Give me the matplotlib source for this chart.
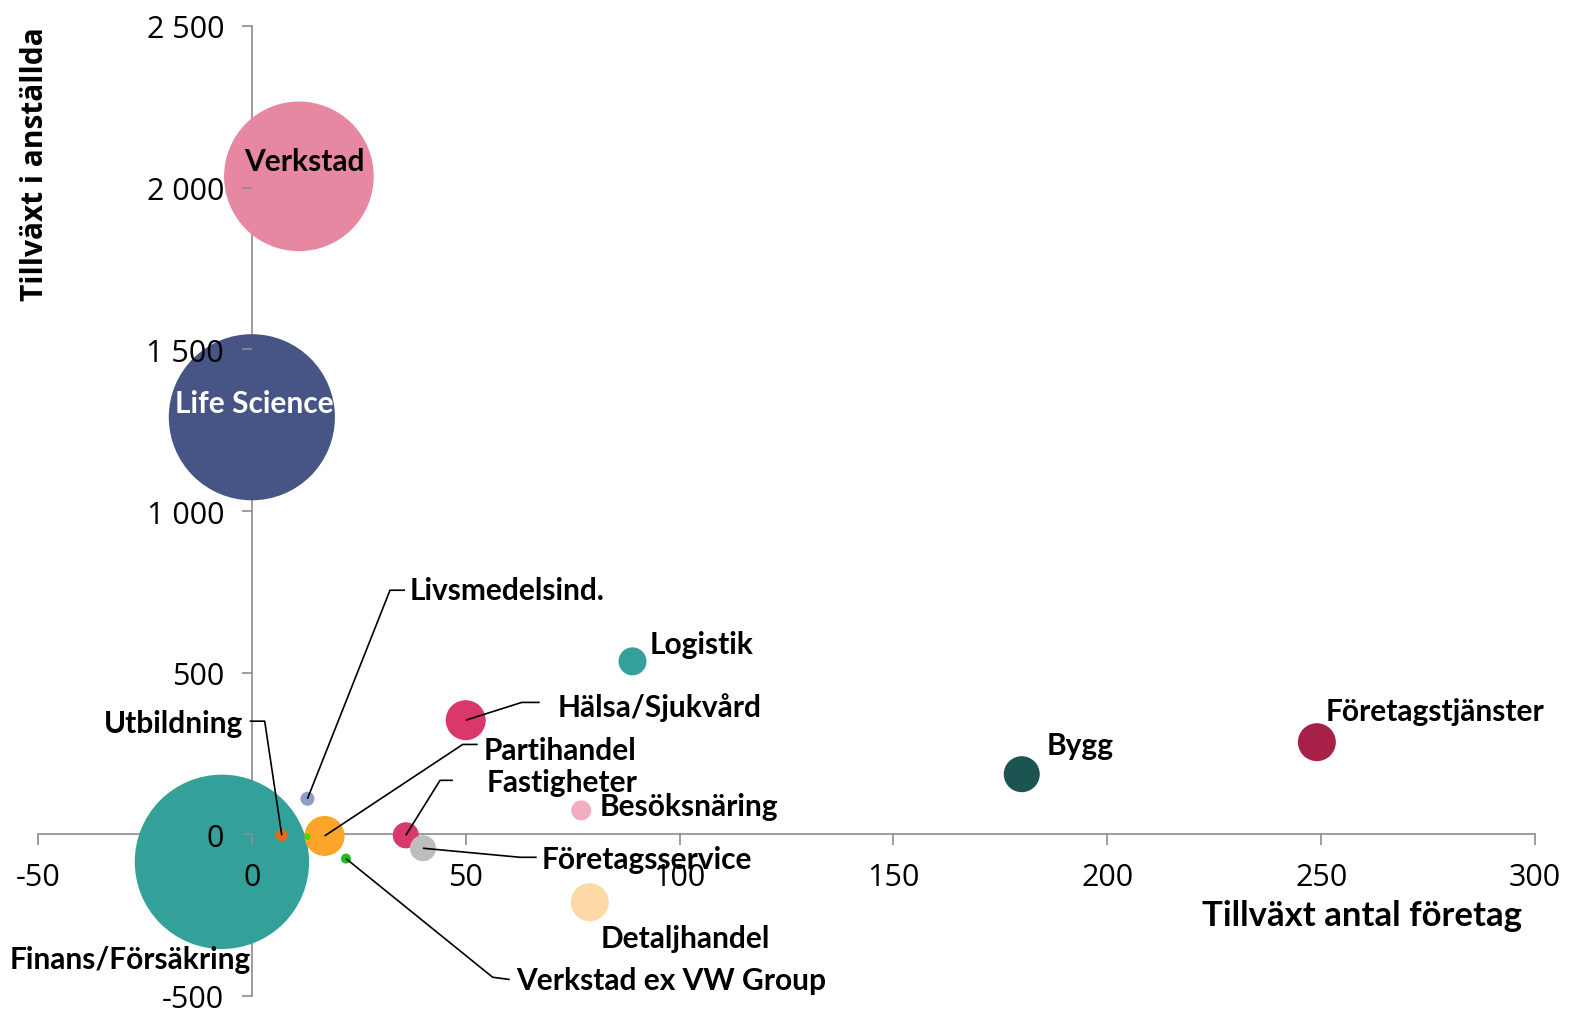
import matplotlib
matplotlib.use("Agg")
import matplotlib.pyplot as plt
from matplotlib.ticker import FuncFormatter

# ---- data ----
branscher = ["Verkstad", "Life Science", "Finans/Försäkring", "Utbildning",
             "Livsmedelsind.", "Partihandel", "Övrigt", "Verkstad ex VW Group",
             "Fastigheter", "Företagsservice", "Hälsa/Sjukvård", "Logistik",
             "Besöksnäring", "Detaljhandel", "Bygg", "Företagstjänster"]
tillvaxt_foretag = [11, 0, -7, 7, 13, 17, 13, 22, 36, 40, 50, 89, 77, 79, 180, 249]
tillvaxt_anstallda = [2035, 1290, -85, -3, 110, -5, -8, -75, -3, -43, 353, 535, 74, -210, 186, 285]
storlek = [5600, 6900, 7600, 36, 49, 400, 9, 25, 170, 170, 400, 196, 100, 360, 324, 360]
farger = ["#E788A3", "#465486", "#33A199", "#E06A1E", "#8E9DC8", "#FBA428",
          "#33DD00", "#1DBE1D", "#D6396A", "#BDBDBD", "#D93868", "#33A199",
          "#F0AEC0", "#FDD9A5", "#1B5450", "#A62048"]

x_ticks = [-50, 0, 50, 100, 150, 200, 250, 300]
y_ticks = [-500, 0, 500, 1000, 1500, 2000, 2500]

W, H = 1575, 1012
fig = plt.figure(figsize=(W / 100, H / 100), dpi=100)
ax = fig.add_axes([38 / W, 15 / H, (1535 - 38) / W, (997 - 27) / H])
ax.set_xlim(-50, 300)
ax.set_ylim(-500, 2500)

ax.scatter(tillvaxt_foretag, tillvaxt_anstallda, s=[v * 2.0736 for v in storlek],
           c=farger, linewidths=0, zorder=1)

for side in ["top", "right"]:
    ax.spines[side].set_visible(False)
for side in ["left", "bottom"]:
    ax.spines[side].set_position(("data", 0))
    ax.spines[side].set_color("#8c8c8c")
    ax.spines[side].set_linewidth(1.2)
    ax.spines[side].set_zorder(0.5)

ax.set_xticks(x_ticks)
ax.set_yticks(y_ticks)
fmt = FuncFormatter(lambda v, p: f"{v:,.0f}".replace(",", " "))
ax.xaxis.set_major_formatter(fmt)
ax.yaxis.set_major_formatter(fmt)
ax.tick_params(axis="x", direction="out", length=8, width=1.2, color="#8c8c8c",
               pad=12, labelsize=22)
ax.tick_params(axis="y", direction="out", length=7, width=1.2, color="#8c8c8c",
               pad=13, labelsize=22)
for lab in ax.get_xticklabels() + ax.get_yticklabels():
    lab.set_fontfamily(["Open Sans", "DejaVu Sans"])
    lab.set_color("black")

lfont = dict(fontfamily=["Lato", "DejaVu Sans"], fontweight="bold", fontsize=21.5, zorder=4)

# labels: (index, x, y, ha, color)
etiketter = [
    (0, 12.2, 2082, "center", "black"),
    (1, 0.5, 1334, "center", "white"),
    (2, -56.6, -387, "left", "black"),
    (3, -1.9, 343, "right", "black"),
    (4, 36.9, 755, "left", "black"),
    (11, 93.1, 588, "left", "black"),
    (10, 71.5, 396, "left", "black"),
    (5, 54.2, 262, "left", "black"),
    (8, 54.9, 161, "left", "black"),
    (12, 81.4, 87, "left", "black"),
    (9, 67.8, -77, "left", "black"),
    (13, 81.6, -322, "left", "black"),
    (7, 61.7, -452, "left", "black"),
    (14, 185.9, 275, "left", "black"),
    (15, 251.1, 381, "left", "black"),
]
for i, tx, ty, ha, col in etiketter:
    ax.text(tx, ty, branscher[i], ha=ha, va="center", color=col, **lfont)

# leader lines: index, start point, elbow point
ledare = [
    (3, (-0.5, 350), (3.0, 350)),
    (4, (35.8, 755), (32.3, 755)),
    (10, (67.3, 408), (63.1, 408)),
    (5, (52.8, 278), (49.3, 278)),
    (8, (47.0, 167), (44.0, 167)),
    (9, (66.6, -71), (62.7, -71)),
    (7, (60.3, -449), (56.3, -442)),
]
for i, p0, p1 in ledare:
    ax.plot([p0[0], p1[0], tillvaxt_foretag[i]], [p0[1], p1[1], tillvaxt_anstallda[i]],
            color="black", lw=1.2, zorder=3, solid_capstyle="butt")

fig.text(1522 / W, 1 - 916 / H, "Tillväxt antal företag", ha="right", va="center",
         fontsize=25, fontweight="bold", fontfamily=["Lato", "DejaVu Sans"])
fig.text(35 / W, 1 - 27 / H, "Tillväxt i anställda", ha="center", va="top",
         rotation=90, fontsize=21.5, fontweight="bold", fontfamily=["Open Sans", "DejaVu Sans"])

fig.savefig("out.png", dpi=100)
